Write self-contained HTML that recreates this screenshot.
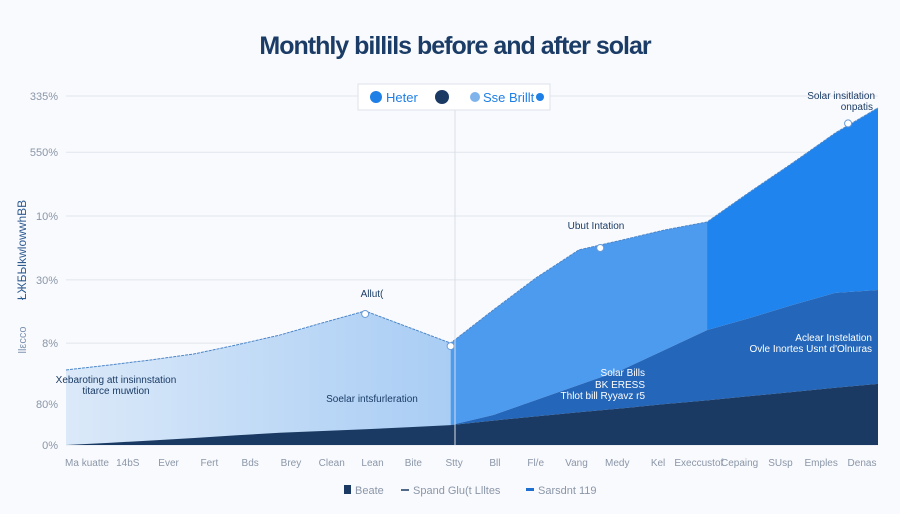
<!DOCTYPE html>
<html><head><meta charset="utf-8"><style>
html,body{margin:0;padding:0;background:#f9fafd;width:900px;height:514px;overflow:hidden;font-family:"Liberation Sans",sans-serif}
svg{display:block}
</style></head><body>
<svg id="chart" width="900" height="514" viewBox="0 0 900 514" xmlns="http://www.w3.org/2000/svg">
<defs>
<linearGradient id="lightG" x1="0" x2="1" y1="0" y2="0"><stop offset="0" stop-color="#dbe9f9"/><stop offset="1" stop-color="#a9cdf4"/></linearGradient>
</defs>
<text x="455" y="54" text-anchor="middle" font-size="25" font-weight="bold" fill="#1b3c66" letter-spacing="-1">Monthly billils before  and  after solar</text>
<g id="grid"></g>
<g id="areas"></g>
<g id="xlabels"></g>
<line x1="455" y1="96" x2="455" y2="445" stroke="#d9dee6" stroke-width="1"/>
<g>
<rect x="358" y="84" width="192" height="26" fill="#fff" stroke="#dde2ea"/>
<circle cx="376" cy="97" r="6" fill="#1e7fe6"/>
<text x="386" y="102" font-size="13" fill="#1e7fe6">Heter</text>
<circle cx="442" cy="97" r="7" fill="#1b3a63"/>
<circle cx="475" cy="97" r="5" fill="#7fb3ec"/>
<text x="483" y="102" font-size="13" fill="#1e7fe6">Sse Brillt</text>
<circle cx="540" cy="97" r="4" fill="#1e7fe6"/>
</g>
<text transform="translate(26,250) rotate(-90)" font-size="12" fill="#2d5a90" text-anchor="middle">ŁЖБЫkwlowwhBВ</text>
<text transform="translate(26,340) rotate(-90)" font-size="11" fill="#7e93b0" text-anchor="middle">llεcco</text>
<g id="ann" font-size="10" fill="#1b3c66"></g>
<g font-size="11" fill="#8a96a8">
<rect x="344" y="485" width="7" height="9" fill="#1b3a63"/>
<text x="355" y="494">Beate</text>
<line x1="401" y1="490" x2="409" y2="490" stroke="#1b3a63" stroke-width="1.5"/>
<text x="413" y="494">Spand Glu(t Llltes</text>
<rect x="526" y="488" width="8" height="3" fill="#1e6fd0"/>
<text x="538" y="494">Sarsdnt 119</text>
</g>
</svg>
<script>
const categories=["Ma kuatte","14bS","Ever","Fert","Bds","Brey","Clean","Lean","Bite","Stty","Bll","Fl/e","Vang","Medy","Kel","Execcustof","Cepaing","SUsp","Emples","Denas"];
const beforeValues=[21.5,22.9,24.4,26.1,28.7,31.5,35,38.4,33.8,29.2,38.7,47.9,55.9,58.7,61.6,63.9,72.5,80.8,89.4,96.6];
const solarValues=[0,0.6,1.3,2,2.8,3.5,4,4.5,5.1,5.7,8.6,12.9,17.2,21.5,27.2,32.9,36.4,40.1,43.6,44.4];
const baseValues=[0,0.6,1.3,2,2.8,3.5,4,4.5,5.1,5.7,7,8.2,9.4,10.5,11.7,12.8,14,15.2,16.4,17.5];
const tickLabels=["0%","80%","8%","30%","10%","550%","335%"];
const tickValues=[0,11.7,29.2,47.3,65.6,83.9,100];
const installIndex=9;
const NS="http://www.w3.org/2000/svg";
const X0=66,X1=878,Y0=445,YT=96;
const xs=i=>X0+i*(X1-X0)/(categories.length-1);
const xl_=i=>87+i*(862-87)/(categories.length-1);
const ys=v=>Y0-v*(Y0-YT)/100;
function mk(t,a,p){const e=document.createElementNS(NS,t);for(const k in a)e.setAttribute(k,a[k]);p.appendChild(e);return e;}
const grid=document.getElementById('grid');
tickValues.forEach((v,i)=>{
 const l=mk('line',{x1:X0,x2:X1,y1:ys(v),y2:ys(v),stroke:'#e1e5ec','stroke-width':1},grid);
 
 
 const t=mk('text',{x:58,y:ys(v)+4,'text-anchor':'end','font-size':11,fill:'#8a96a8'},grid);
 t.textContent=tickLabels[i];
 
 
});
const areas=document.getElementById('areas');
function areaPath(top,bot,from,to){let d='';for(let i=from;i<=to;i++)d+=(i===from?'M':'L')+xs(i)+','+ys(top[i]);for(let i=to;i>=from;i--)d+='L'+xs(i)+','+ys(bot[i]);return d+'Z';}
const zero=categories.map(()=>0);
let p=mk('path',{d:areaPath(beforeValues,zero,0,installIndex),fill:'url(#lightG)'},areas);

p=mk('path',{d:areaPath(beforeValues,solarValues,installIndex,15),fill:'#4d9bef'},areas);

p=mk('path',{d:areaPath(beforeValues,solarValues,15,categories.length-1),fill:'#1f84ee'},areas);

p=mk('path',{d:areaPath(solarValues,baseValues,installIndex,categories.length-1),fill:'#2466b9'},areas);

p=mk('path',{d:areaPath(baseValues,zero,0,categories.length-1),fill:'#1b3a63'},areas);

let ld='';beforeValues.forEach((v,i)=>ld+=(i?'L':'M')+xs(i)+','+ys(v));
p=mk('path',{d:ld,fill:'none',stroke:'#4c86c8','stroke-width':1,'stroke-dasharray':'3,1'},areas);

[[7,beforeValues],[9,beforeValues],[12.5,null],[18.3,null]].forEach(([i,arr])=>{
 const v=arr?arr[i]:(beforeValues[Math.floor(i)]+beforeValues[Math.ceil(i)])/2;
 const c=mk('circle',{cx:xs(i),cy:ys(v)+3,r:3.5,fill:'#fff',stroke:'#6a9bd8'},areas);
 
});
const xl=document.getElementById('xlabels');
categories.forEach((c,i)=>{
 const t=mk('text',{x:xl_(i),y:466,'text-anchor':'middle','font-size':10,fill:'#8a96a8'},xl);
 t.textContent=c;
 
 
});
const ann=document.getElementById('ann');
[["Allut(",372,297,"middle"],["Ubut Intation",596,229,"middle"],["Solar insitlation",875,99,"end"],["onpatis",873,110,"end"],
 ["Xebaroting att insinnstation",116,383,"middle"],["titarce muwtion",116,394,"middle"],["Soelar intsfurleration",372,402,"middle"],
 ["Solar Bills",645,376,"end"],["BK ERESS",645,388,"end"],["Thlot bill Ryyavz r5",645,399,"end"],
 ["Aclear Instelation",872,341,"end"],["Ovle Inortes Usnt d'Olnuras",872,352,"end"]].forEach(a=>{
 const t=mk('text',{x:a[1],y:a[2],'text-anchor':a[3],fill:(a[1]>600&&a[2]>330)?'#fff':'#1b3c66'},ann);
 t.textContent=a[0];
 
 
});
</script>
</body></html>
